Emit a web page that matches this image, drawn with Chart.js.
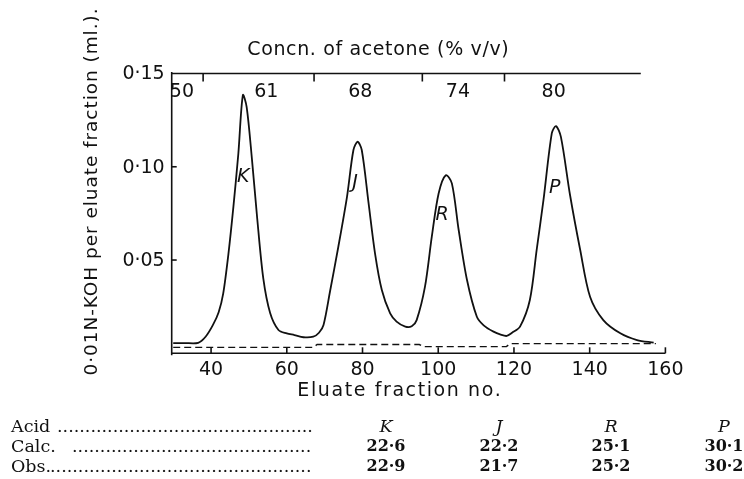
<!DOCTYPE html>
<html><head><meta charset="utf-8">
<script src="https://cdn.jsdelivr.net/npm/chart.js@4"></script>
<style>
html,body{margin:0;padding:0;background:#fff;}
#wrap{position:relative;width:744px;height:479px;overflow:hidden;background:#fff;}
canvas{position:absolute;left:0;top:0;}
.row{position:absolute;left:0;width:744px;height:20px;line-height:20px;font-family:"DejaVu Serif",serif;font-size:17.5px;color:#111;white-space:nowrap;}
.lab{position:absolute;top:0;}
.dots{position:absolute;top:0;overflow:hidden;}
.cell{position:absolute;top:0;transform:translateX(-50%);}
.num{font-weight:bold;font-size:16px;}
.it{font-style:italic;}
</style></head><body>
<div id="wrap"><canvas id="c" width="744" height="479"></canvas><div id="table"></div></div>
<script>
// ---- data ----
const fraction = [30, 33, 36.6, 38.6, 40.5, 42, 43.2, 44.6, 45.9, 47.2, 48.4, 49.4, 50.8, 52.2, 53.8, 55.6, 57.8, 60.0, 62, 64.4, 67.0, 68.5, 69.7, 71.4, 73.6, 75.9, 77.6, 78.7, 79.8, 81.6, 83.3, 85.1, 87.3, 89, 91.3, 93, 94.3, 96.5, 98.3, 100.1, 102.0, 103.6, 105.4, 107.6, 110.2, 112, 114.6, 116.5, 118.1, 119.5, 121.6, 124.2, 126.0, 127.8, 130.0, 131.1, 132.4, 134.8, 137.5, 140.1, 143.6, 148.1, 152.5, 156.9];
const koh = [0.0055, 0.0055, 0.0056, 0.009, 0.0152, 0.022, 0.032, 0.0536, 0.0786, 0.107, 0.1384, 0.132, 0.104, 0.072, 0.040, 0.0216, 0.0125, 0.0107, 0.0098, 0.0086, 0.0089, 0.011, 0.0152, 0.033, 0.057, 0.0839, 0.109, 0.1134, 0.109, 0.0805, 0.0536, 0.0339, 0.0214, 0.017, 0.0143, 0.0145, 0.0178, 0.0357, 0.0625, 0.0857, 0.0955, 0.0911, 0.0661, 0.0393, 0.0196, 0.0150, 0.0116, 0.0100, 0.0093, 0.0110, 0.0143, 0.0286, 0.0554, 0.0822, 0.118, 0.1218, 0.116, 0.085, 0.0554, 0.0303, 0.0178, 0.0107, 0.0071, 0.0057];
const blankX = [30, 67, 68, 95, 96, 118, 119, 157.5];
const blankY = [0.0032, 0.0032, 0.0047, 0.0047, 0.0036, 0.0036, 0.0052, 0.0052];
const xTicks = [40, 60, 80, 100, 120, 140, 160];
const xTickLabels = ['40', '60', '80', '100', '120', '140', '160'];
const yTicks = [0.05, 0.10, 0.15];
const yTickLabels = ['0·05', '0·10', '0·15'];
const concLabels = ['50', '61', '68', '74', '80'];
const concLabelAt = [32.3, 54.6, 79.4, 105.2, 130.5];
const concBounds = [37.9, 67.2, 95.8, 117.5];
const peakNames = ['K', 'J', 'R', 'P'];
const peakNameX = [48.5, 78.0, 101.0, 130.8];
const peakNameY = [0.0946, 0.091, 0.074, 0.0884];
const rowNames = ['Acid', 'Calc.', 'Obs.'];
const acids = ['K', 'J', 'R', 'P'];
const calc = ['22·6', '22·2', '25·1', '30·1'];
const obs = ['22·9', '21·7', '25·2', '30·2'];
const topTitle = 'Concn. of acetone (% v/v)';
const xTitle = 'Eluate fraction no.';
const yTitle = '0·01N-KOH per eluate fraction (ml.).';

// ---- chart ----
const INK = '#111';
const SANS = '"DejaVu Sans", sans-serif';

// draws centred text at a given size, spreading letters so it spans the given width
function spreadText(ctx, text, x, y, size, width) {
  ctx.font = size + 'px ' + SANS;
  if ('letterSpacing' in ctx) {
    ctx.letterSpacing = '0px';
    const w = ctx.measureText(text).width;
    const extra = Math.max(0, (width - w) / text.length);
    ctx.letterSpacing = extra.toFixed(2) + 'px';
    ctx.fillText(text, x + extra / 2, y);
    ctx.letterSpacing = '0px';
  } else {
    ctx.fillText(text, x, y);
  }
}

const axesPlugin = {
  id: 'axesPlugin',
  afterDatasetsDraw(chart) {
    const ctx = chart.ctx, xs = chart.scales.x, ys = chart.scales.y, a = chart.chartArea;
    const y0 = ys.getPixelForValue(0), yTop = ys.getPixelForValue(0.15);
    ctx.save();
    ctx.strokeStyle = INK; ctx.fillStyle = INK; ctx.lineWidth = 1.6; ctx.lineCap = 'butt';
    // left axis
    ctx.beginPath(); ctx.moveTo(a.left, yTop - 1.5); ctx.lineTo(a.left, y0 + 2); ctx.stroke();
    // bottom axis
    ctx.beginPath(); ctx.moveTo(a.left, y0); ctx.lineTo(xs.getPixelForValue(160), y0); ctx.stroke();
    xTicks.forEach(v => { const p = xs.getPixelForValue(v); ctx.beginPath(); ctx.moveTo(p, y0); ctx.lineTo(p, y0 - 6); ctx.stroke(); });
    // top (acetone) axis
    ctx.beginPath(); ctx.moveTo(a.left, yTop); ctx.lineTo(xs.getPixelForValue(153.5), yTop); ctx.stroke();
    concBounds.forEach(v => { const p = xs.getPixelForValue(v); ctx.beginPath(); ctx.moveTo(p, yTop); ctx.lineTo(p, yTop + 8); ctx.stroke(); });
    // y ticks
    yTicks.slice(0, 2).forEach(v => { const p = ys.getPixelForValue(v); ctx.beginPath(); ctx.moveTo(a.left, p); ctx.lineTo(a.left + 5, p); ctx.stroke(); });
    // labels
    ctx.font = '19px ' + SANS;
    ctx.textAlign = 'right'; ctx.textBaseline = 'middle';
    yTicks.forEach((v, i) => ctx.fillText(yTickLabels[i], a.left - 7, ys.getPixelForValue(v) + 1));
    ctx.textAlign = 'center';
    xTicks.forEach((v, i) => ctx.fillText(xTickLabels[i], xs.getPixelForValue(v), y0 + 17));
    concLabels.forEach((t, i) => ctx.fillText(t, xs.getPixelForValue(concLabelAt[i]), yTop + 19));
    spreadText(ctx, topTitle, 378, 50, 19, 262);
    spreadText(ctx, xTitle, 399, 391, 19, 205);
    ctx.font = 'italic 19px ' + SANS;
    peakNames.forEach((t, i) => ctx.fillText(t, xs.getPixelForValue(peakNameX[i]), ys.getPixelForValue(peakNameY[i])));
    // y title
    ctx.save();
    ctx.translate(92, 192); ctx.rotate(-Math.PI / 2);
    spreadText(ctx, yTitle, 0, 0, 18.5, 368);
    ctx.restore();
    ctx.restore();
  }
};

new Chart(document.getElementById('c'), {
  type: 'line',
  data: {
    datasets: [
      { data: fraction.map((x, i) => ({ x, y: koh[i] })), borderColor: INK, borderWidth: 1.8, pointRadius: 0,
        tension: 0.3, fill: false, clip: false },
      { data: blankX.map((x, i) => ({ x, y: blankY[i] })), borderColor: INK, borderWidth: 1.4, borderDash: [7, 4],
        pointRadius: 0, tension: 0, fill: false, clip: false }
    ]
  },
  options: {
    responsive: false, animation: false, events: [],
    layout: { padding: { left: 171.7, right: 78.6, top: 73.5, bottom: 125.7 } },
    plugins: { legend: { display: false }, tooltip: { enabled: false } },
    scales: {
      x: { type: 'linear', min: 29.6, max: 160, display: false },
      y: { type: 'linear', min: 0, max: 0.15, display: false }
    }
  },
  plugins: [axesPlugin]
});

// ---- table below the chart ----
const rowY = [416, 436, 456];
const dotStart = [57, 72, 50];
const dotEnd = 312;
const colX = [386, 499, 611, 724];
const tbl = document.getElementById('table');
rowNames.forEach((name, r) => {
  const row = document.createElement('div');
  row.className = 'row'; row.style.top = rowY[r] + 'px';
  const lab = document.createElement('span'); lab.className = 'lab'; lab.style.left = '11px'; lab.textContent = name;
  const dots = document.createElement('span'); dots.className = 'dots';
  dots.style.left = dotStart[r] + 'px'; dots.style.width = (dotEnd - dotStart[r]) + 'px';
  dots.textContent = '.'.repeat(80);
  row.appendChild(lab); row.appendChild(dots);
  const vals = r === 0 ? acids : (r === 1 ? calc : obs);
  vals.forEach((v, c) => {
    const cell = document.createElement('span');
    cell.className = 'cell ' + (r === 0 ? 'it' : 'num');
    cell.style.left = colX[c] + 'px';
    cell.textContent = v;
    row.appendChild(cell);
  });
  tbl.appendChild(row);
});
</script>
</body></html>
